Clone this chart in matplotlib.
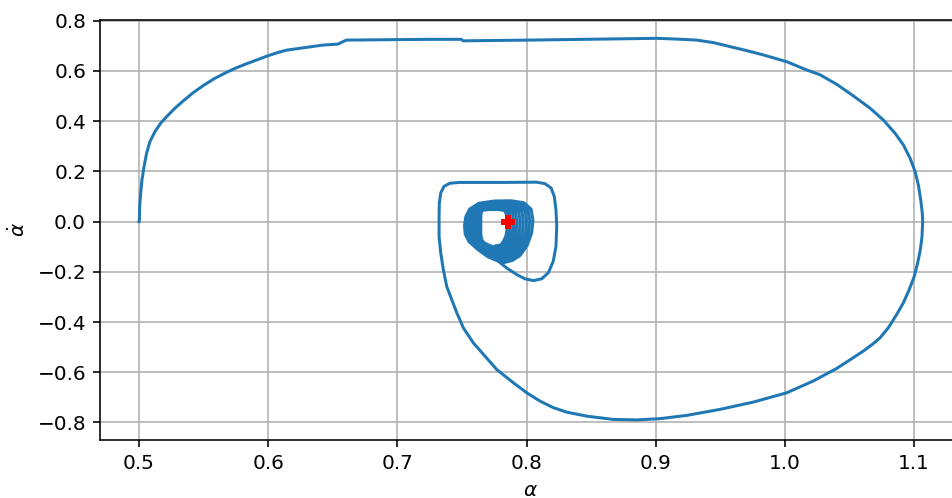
import numpy as np
import matplotlib
matplotlib.use("Agg")
import matplotlib.pyplot as plt

# ---- Trajectory: alpha (x) and alpha_dot (y) ----
ascent_alpha = [0.5000, 0.5003, 0.5005, 0.5013, 0.5023, 0.5039, 0.5059, 0.5085, 0.5124, 0.5168,
                0.5214, 0.5279, 0.5343, 0.5421, 0.5498, 0.5588, 0.5679, 0.5756, 0.5834, 0.5924,
                0.6001, 0.6079, 0.6143]
ascent_alpha_dot = [0.000, 0.008, 0.060, 0.114, 0.167, 0.219, 0.273, 0.319, 0.359, 0.392,
                    0.418, 0.452, 0.481, 0.514, 0.542, 0.571, 0.595, 0.613, 0.629, 0.646,
                    0.661, 0.674, 0.683]

top_alpha = [0.6268, 0.6423, 0.6539, 0.6606, 0.7251, 0.7496, 0.7508, 0.8024, 0.9008, 0.9163,
             0.9318, 0.9446, 0.9575, 0.9705, 0.9833, 1.0014, 1.0169]
top_alpha_dot = [0.692, 0.703, 0.707, 0.723, 0.726, 0.726, 0.720, 0.723, 0.730, 0.727,
                 0.723, 0.713, 0.697, 0.681, 0.664, 0.637, 0.604]

right_alpha = [1.0272, 1.0401, 1.0530, 1.0659, 1.0762, 1.0853, 1.0917, 1.0969, 1.1008, 1.1033,
               1.1052, 1.1064, 1.1067, 1.1062, 1.1049, 1.1028, 1.1002, 1.0963, 1.0917, 1.0866,
               1.0801, 1.0737, 1.0685, 1.0607, 1.0530, 1.0401]
right_alpha_dot = [0.585, 0.547, 0.501, 0.452, 0.405, 0.352, 0.306, 0.253, 0.200, 0.147,
                   0.087, 0.034, 0.001, -0.059, -0.112, -0.165, -0.218, -0.271, -0.324, -0.370,
                   -0.423, -0.463, -0.486, -0.516, -0.542, -0.585]

bottom_alpha = [1.0220, 1.0014, 0.9756, 0.9498, 0.9240, 0.9033, 0.8853, 0.8672, 0.8466, 0.8311,
                0.8207, 0.8104, 0.8002, 0.7898, 0.7769, 0.7679, 0.7588, 0.7511, 0.7460, 0.7421,
                0.7382, 0.7356, 0.7336, 0.7323]
bottom_alpha_dot = [-0.635, -0.682, -0.719, -0.748, -0.772, -0.785, -0.790, -0.788, -0.775, -0.759,
                    -0.741, -0.715, -0.682, -0.642, -0.589, -0.536, -0.483, -0.423, -0.363, -0.311,
                    -0.258, -0.191, -0.125, -0.059]

inner_alpha = [0.7323, 0.7325, 0.7336, 0.7361, 0.7408, 0.7485, 0.7820, 0.8078, 0.8143, 0.8190,
               0.8215, 0.8228, 0.8234, 0.8228, 0.8207, 0.8169, 0.8117, 0.8053, 0.7988, 0.7924,
               0.7847, 0.7782]
inner_alpha_dot = [0.021, 0.074, 0.114, 0.140, 0.153, 0.156, 0.156, 0.157, 0.151, 0.134,
                   0.100, 0.047, -0.019, -0.099, -0.158, -0.204, -0.228, -0.235, -0.228, -0.211,
                   -0.185, -0.158]

# Dense oscillation loops around the equilibrium (each loop clockwise)
loop_alpha = [
    [0.7700, 0.7620, 0.7555, 0.7525, 0.7520, 0.7530, 0.7560, 0.7630, 0.7750, 0.7880, 0.7980, 0.8035, 0.8050, 0.8040, 0.8005, 0.7950, 0.7890, 0.7820],
    [0.7701, 0.7626, 0.7567, 0.7540, 0.7536, 0.7545, 0.7571, 0.7634, 0.7745, 0.7868, 0.7961, 0.8011, 0.8025, 0.8016, 0.7984, 0.7934, 0.7879, 0.7813],
    [0.7703, 0.7633, 0.7579, 0.7555, 0.7552, 0.7559, 0.7582, 0.7638, 0.7740, 0.7855, 0.7943, 0.7988, 0.8000, 0.7993, 0.7964, 0.7918, 0.7868, 0.7805],
    [0.7704, 0.7639, 0.7591, 0.7570, 0.7567, 0.7574, 0.7593, 0.7641, 0.7735, 0.7843, 0.7924, 0.7964, 0.7975, 0.7969, 0.7943, 0.7901, 0.7856, 0.7798],
    [0.7705, 0.7645, 0.7604, 0.7586, 0.7583, 0.7588, 0.7604, 0.7645, 0.7730, 0.7830, 0.7905, 0.7940, 0.7950, 0.7945, 0.7923, 0.7885, 0.7845, 0.7790],
    [0.7706, 0.7651, 0.7616, 0.7601, 0.7599, 0.7603, 0.7615, 0.7649, 0.7725, 0.7818, 0.7886, 0.7916, 0.7925, 0.7921, 0.7902, 0.7869, 0.7834, 0.7783],
    [0.7708, 0.7658, 0.7628, 0.7616, 0.7615, 0.7617, 0.7626, 0.7653, 0.7720, 0.7805, 0.7868, 0.7893, 0.7900, 0.7898, 0.7881, 0.7853, 0.7823, 0.7775],
    [0.7709, 0.7664, 0.7640, 0.7631, 0.7630, 0.7632, 0.7637, 0.7656, 0.7715, 0.7793, 0.7849, 0.7869, 0.7875, 0.7874, 0.7861, 0.7836, 0.7811, 0.7768],
    [0.7710, 0.7670, 0.7652, 0.7646, 0.7646, 0.7646, 0.7648, 0.7660, 0.7710, 0.7780, 0.7830, 0.7845, 0.7850, 0.7850, 0.7840, 0.7820, 0.7800, 0.7760],
]
loop_alpha_dot = [
    [-0.1400, -0.1100, -0.0800, -0.0500, -0.0150, 0.0200, 0.0500, 0.0730, 0.0820, 0.0830, 0.0750, 0.0500, 0.0050, -0.0450, -0.0950, -0.1350, -0.1550, -0.1640],
    [-0.1343, -0.1068, -0.0788, -0.0500, -0.0156, 0.0188, 0.0479, 0.0695, 0.0778, 0.0786, 0.0711, 0.0473, 0.0044, -0.0431, -0.0904, -0.1281, -0.1473, -0.1556],
    [-0.1285, -0.1035, -0.0775, -0.0500, -0.0163, 0.0175, 0.0458, 0.0660, 0.0735, 0.0743, 0.0673, 0.0445, 0.0038, -0.0413, -0.0858, -0.1213, -0.1395, -0.1473],
    [-0.1228, -0.1003, -0.0763, -0.0500, -0.0169, 0.0163, 0.0436, 0.0625, 0.0693, 0.0699, 0.0634, 0.0418, 0.0031, -0.0394, -0.0811, -0.1144, -0.1318, -0.1389],
    [-0.1170, -0.0970, -0.0750, -0.0500, -0.0175, 0.0150, 0.0415, 0.0590, 0.0650, 0.0655, 0.0595, 0.0390, 0.0025, -0.0375, -0.0765, -0.1075, -0.1240, -0.1305],
    [-0.1113, -0.0938, -0.0738, -0.0500, -0.0181, 0.0138, 0.0394, 0.0555, 0.0608, 0.0611, 0.0556, 0.0363, 0.0019, -0.0356, -0.0719, -0.1006, -0.1163, -0.1221],
    [-0.1055, -0.0905, -0.0725, -0.0500, -0.0188, 0.0125, 0.0373, 0.0520, 0.0565, 0.0568, 0.0518, 0.0335, 0.0013, -0.0338, -0.0673, -0.0938, -0.1085, -0.1138],
    [-0.0998, -0.0873, -0.0713, -0.0500, -0.0194, 0.0113, 0.0351, 0.0485, 0.0523, 0.0524, 0.0479, 0.0308, 0.0006, -0.0319, -0.0626, -0.0869, -0.1008, -0.1054],
    [-0.0940, -0.0840, -0.0700, -0.0500, -0.0200, 0.0100, 0.0330, 0.0450, 0.0480, 0.0480, 0.0440, 0.0280, 0.0000, -0.0300, -0.0580, -0.0800, -0.0930, -0.0970],
]

# Equilibrium point
eq_alpha = [0.7854]
eq_alpha_dot = [0.0]

alpha = ascent_alpha + top_alpha + right_alpha + bottom_alpha + inner_alpha
alpha_dot = (ascent_alpha_dot + top_alpha_dot + right_alpha_dot + bottom_alpha_dot
             + inner_alpha_dot)
for la, ld in zip(loop_alpha, loop_alpha_dot):
    alpha += la
    alpha_dot += ld
assert len(alpha) == len(alpha_dot)

fig = plt.figure(figsize=(952 / 144, 498 / 144), dpi=144)
ax = fig.add_axes([100 / 952, 58 / 498, 860 / 952, 420 / 498])
ax.plot(alpha, alpha_dot, color='#1f77b4', lw=1.5)
ax.plot(eq_alpha, eq_alpha_dot, 'P', color='red', ms=6)
ax.set_xlim(0.4698, 1.1356)
ax.set_ylim(-0.870, 0.803)
ax.set_xticks([0.5, 0.6, 0.7, 0.8, 0.9, 1.0, 1.1])
ax.set_yticks([-0.8, -0.6, -0.4, -0.2, 0.0, 0.2, 0.4, 0.6, 0.8])
ax.grid(True)
ax.set_xlabel(r'$\alpha$')
ax.set_ylabel(r'$\dot{\alpha}$')
fig.savefig('out.png', dpi=144)
